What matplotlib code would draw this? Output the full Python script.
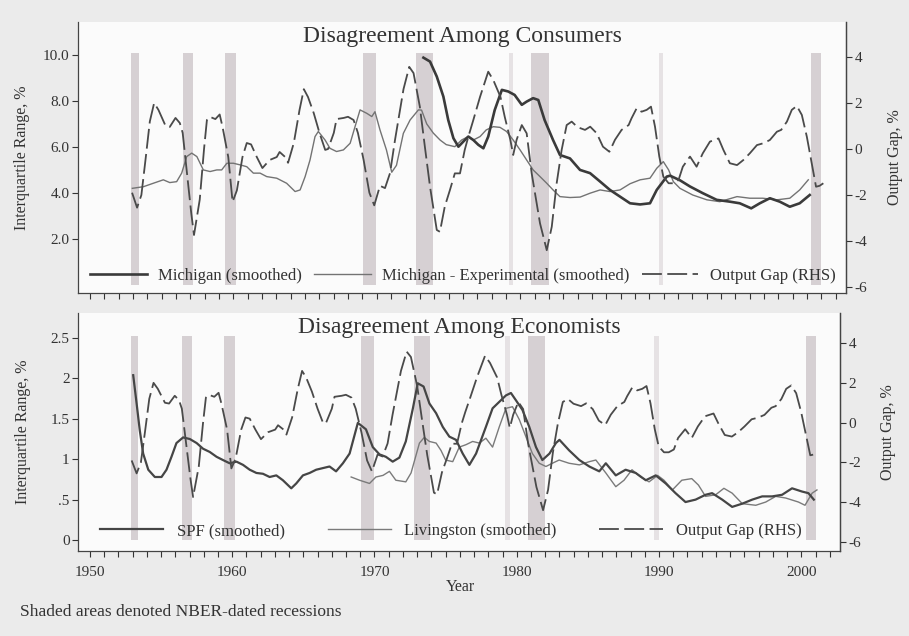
"""
Disagreement among consumers and economists vs. the output gap.
Two stacked panels, each with a twin axis for the output gap (RHS).
"""

import matplotlib
matplotlib.use("Agg")
import matplotlib.pyplot as plt
from matplotlib.ticker import MultipleLocator, FixedLocator

plt.rcParams['font.family'] = ['Liberation Serif', 'DejaVu Serif']
plt.rcParams['axes.unicode_minus'] = False

# NBER recessions, as drawn in the chart (start, end)
rec_start = [1952.86, 1956.5, 1959.4, 1969.07, 1972.76, 1979.2, 1980.76, 1989.68, 2000.3]
rec_end = [1953.39, 1957.2, 1960.2, 1969.95, 1973.93, 1979.5, 1982.0, 1989.98, 2001.0]

# Output gap, % (same series in both panels)
gap_year = [1952.93, 1953.28, 1953.58, 1953.88, 1954.17, 1954.47, 1954.77, 1955.27, 1955.56,
            1955.96, 1956.26, 1956.46, 1956.76, 1957.06, 1957.25, 1957.65, 1957.95, 1958.15,
            1958.35, 1958.74, 1959.04, 1959.24, 1959.64, 1959.94, 1960.24, 1960.63, 1960.93,
            1961.23, 1961.63, 1962.02, 1962.52, 1963.02, 1963.22, 1963.61, 1963.81, 1964.21,
            1964.61, 1964.91, 1965.2, 1965.6, 1966.0, 1966.4, 1966.6, 1967.0, 1967.19, 1967.69,
            1967.99, 1968.38, 1968.68, 1969.08, 1969.48, 1969.82, 1970.22, 1970.57, 1970.92,
            1971.27, 1971.86, 1972.26, 1972.56, 1973.0, 1973.35, 1973.71, 1974.18, 1974.4,
            1974.74, 1975.1, 1975.44, 1975.8, 1976.13, 1976.38, 1976.73, 1977.2, 1977.77,
            1978.12, 1978.62, 1978.92, 1979.31, 1979.51, 1979.75, 1980.11, 1980.45, 1980.8,
            1981.38, 1981.85, 1982.2, 1982.54, 1982.89, 1983.24, 1983.59, 1983.99, 1984.52,
            1984.88, 1985.34, 1985.77, 1986.22, 1986.61, 1987.07, 1987.56, 1987.76, 1988.12,
            1988.46, 1988.82, 1989.12, 1989.4, 1989.7, 1989.98, 1990.35, 1990.68, 1991.04,
            1991.34, 1991.84, 1992.3, 1992.73, 1993.23, 1993.83, 1994.17, 1994.62, 1995.12,
            1995.56, 1996.01, 1996.51, 1996.96, 1997.41, 1997.9, 1998.2, 1998.6, 1998.94,
            1999.29, 1999.64, 1999.99, 2000.33, 2000.63, 2000.88, 2001.14]
gap_val = [-1.9, -2.55, -2.0, -0.4, 1.2, 2.0, 1.7, 1.0, 0.96,
           1.35, 1.13, 0.7, -1.05, -2.8, -3.74, -2.2, 0.0, 1.26,
           1.4, 1.3, 1.5, 0.96, -0.35, -2.3, -1.8, -0.35, 0.26,
           0.2, -0.35, -0.83, -0.48, -0.35, -0.13, -0.35, -0.6, 0.26,
           1.7, 2.6, 2.26, 1.56, 0.7, -0.04, 0.0, 0.7, 1.3, 1.35,
           1.4, 1.26, 0.7, -0.48, -1.9, -2.45, -1.6, -1.7, -1.05,
           0.4, 2.6, 3.57, 3.3, 1.84, 0.1, -1.64, -3.52, -3.6,
           -2.5, -1.78, -1.06, -1.06, -0.04, 0.53, 1.26, 2.27, 3.36,
           3.0, 2.27, 1.4, 0.4, -0.26, 0.4, 1.04, 0.68, -1.06,
           -3.23, -4.4, -3.38, -1.5, -0.04, 1.04, 1.19, 0.95, 0.83,
           0.97, 0.68, 0.1, -0.12, 0.4, 0.83, 1.04, 1.33, 1.77,
           1.62, 1.7, 1.84, 0.97, -0.33, -1.2, -1.49, -1.49, -1.35,
           -0.77, -0.33, -0.77, -0.19, 0.32, 0.46, -0.04, -0.62, -0.7,
           -0.48, -0.19, 0.17, 0.25, 0.39, 0.75, 0.83, 1.19, 1.7,
           1.87, 1.48, 0.53, -0.62, -1.64, -1.6, -1.49]

# Michigan (smoothed), interquartile range %
mich_year = [1973.25, 1973.71, 1974.18, 1974.64, 1974.98, 1975.34, 1975.69, 1976.03, 1976.38,
             1976.73, 1977.08, 1977.43, 1977.77, 1978.22, 1978.72, 1979.16, 1979.61, 1980.11,
             1980.45, 1980.9, 1981.26, 1981.7, 1982.29, 1982.77, 1983.47, 1984.17, 1984.87,
             1985.56, 1986.26, 1986.96, 1987.66, 1988.36, 1989.05, 1989.52, 1990.22, 1990.45,
             1991.14, 1991.84, 1992.73, 1993.7, 1994.62, 1995.31, 1996.11, 1996.71, 1997.41,
             1998.1, 1998.8, 1999.49, 2000.19]
mich_val = [9.88, 9.71, 9.06, 8.19, 7.17, 6.38, 6.01, 6.23, 6.45,
            6.3, 6.09, 5.94, 6.45, 7.6, 8.48, 8.41, 8.26, 7.83,
            7.97, 8.12, 8.04, 7.17, 6.3, 5.65, 5.5, 5.0, 4.86,
            4.5, 4.13, 3.84, 3.55, 3.5, 3.55, 4.13, 4.71, 4.75,
            4.55, 4.28, 3.99, 3.7, 3.62, 3.55, 3.33, 3.55, 3.77,
            3.62, 3.4, 3.55, 3.91]

# Michigan - Experimental (smoothed)
exp_year = [1952.95, 1953.72, 1954.41, 1955.11, 1955.56, 1956.04, 1956.39, 1956.74, 1957.09,
            1957.45, 1957.9, 1958.37, 1958.84, 1959.18, 1959.54, 1960.0, 1960.46, 1960.93,
            1961.39, 1961.86, 1962.32, 1963.02, 1963.71, 1964.3, 1964.65, 1965.0, 1965.34,
            1965.69, 1965.92, 1966.39, 1966.73, 1967.19, 1967.67, 1968.14, 1968.48, 1968.83,
            1969.3, 1969.65, 1969.87, 1970.22, 1970.67, 1971.04, 1971.37, 1971.85, 1972.32,
            1972.9, 1973.12, 1973.48, 1973.94, 1974.41, 1974.84, 1975.44, 1975.91, 1976.38,
            1976.73, 1977.2, 1977.63, 1978.12, 1978.59, 1979.05, 1979.51, 1979.99, 1980.45,
            1980.9, 1981.38, 1981.85, 1982.29, 1982.77, 1983.47, 1984.18, 1984.88, 1985.57,
            1986.26, 1986.96, 1987.66, 1988.36, 1989.05, 1989.52, 1989.98, 1990.35, 1990.68,
            1991.14, 1992.03, 1993.02, 1993.92, 1995.12, 1996.01, 1996.91, 1997.9, 1998.8,
            1999.49, 2000.09]
exp_val = [4.2, 4.27, 4.42, 4.57, 4.45, 4.49, 4.86, 5.58, 5.73,
           5.58, 5.0, 4.93, 5.0, 5.0, 5.29, 5.29, 5.22, 5.14,
           4.86, 4.86, 4.71, 4.64, 4.42, 4.06, 4.13, 4.71, 5.43,
           6.45, 6.67, 6.3, 5.94, 5.8, 5.87, 6.16, 6.88, 7.61,
           7.46, 7.32, 7.53, 6.74, 5.87, 4.9, 5.2, 6.59, 7.17,
           7.61, 7.6, 7.0, 6.6, 6.3, 6.1, 6.01, 6.3, 6.45,
           6.3, 6.45, 6.74, 6.88, 6.85, 6.67, 6.3, 5.87, 5.43,
           5.0, 4.71, 4.42, 4.13, 3.84, 3.8, 3.82, 3.99, 4.13,
           4.06, 4.13, 4.4, 4.57, 4.64, 5.07, 5.36, 5.0, 4.49,
           4.2, 3.91, 3.7, 3.62, 3.84, 3.77, 3.77, 3.7, 3.77,
           4.13, 4.57]

# SPF (smoothed)
spf_year = [1953.04, 1953.28, 1953.5, 1953.74, 1954.1, 1954.56, 1955.03, 1955.38, 1955.73,
            1956.08, 1956.55, 1957.02, 1957.5, 1957.95, 1958.42, 1958.9, 1959.35, 1959.82,
            1960.3, 1960.76, 1961.23, 1961.7, 1962.16, 1962.63, 1963.1, 1963.56, 1964.15,
            1964.5, 1964.97, 1965.44, 1965.9, 1966.37, 1966.84, 1967.3, 1967.78, 1968.25,
            1968.83, 1969.4, 1969.88, 1970.35, 1970.8, 1971.28, 1971.75, 1972.2, 1972.7,
            1973.04, 1973.45, 1973.86, 1974.33, 1974.8, 1975.26, 1975.73, 1976.2, 1976.67,
            1977.14, 1977.83, 1978.3, 1978.77, 1979.24, 1979.59, 1979.94, 1980.4, 1980.88,
            1981.35, 1981.8, 1982.3, 1982.75, 1983.0, 1983.68, 1984.4, 1985.1, 1985.8,
            1986.26, 1986.96, 1987.65, 1988.36, 1989.07, 1989.77, 1990.47, 1991.16, 1991.86,
            1992.57, 1993.27, 1993.73, 1994.44, 1995.14, 1995.85, 1996.55, 1997.25, 1997.95,
            1998.65, 1999.35, 2000.05, 2000.5, 2000.88]
spf_val = [2.04, 1.69, 1.36, 1.07, 0.87, 0.78, 0.78, 0.87, 1.03,
           1.2, 1.27, 1.25, 1.2, 1.13, 1.09, 1.03, 0.99, 0.95,
           0.97, 0.93, 0.87, 0.83, 0.82, 0.78, 0.8, 0.74, 0.64,
           0.7, 0.8, 0.83, 0.87, 0.89, 0.91, 0.85, 0.95, 1.07,
           1.45, 1.37, 1.15, 1.06, 1.03, 0.97, 1.02, 1.22, 1.63,
           1.94, 1.9, 1.69, 1.57, 1.4, 1.28, 1.24, 1.07, 0.93,
           1.07, 1.4, 1.63, 1.71, 1.79, 1.82, 1.73, 1.61, 1.4,
           1.15, 0.99, 1.07, 1.2, 1.24, 1.11, 0.99, 0.91, 0.85,
           0.95, 0.8, 0.87, 0.83, 0.74, 0.8, 0.7, 0.58, 0.47,
           0.5, 0.56, 0.58, 0.5, 0.41, 0.45, 0.5, 0.54, 0.54,
           0.56, 0.64, 0.6, 0.58, 0.5]

# Livingston (smoothed)
liv_year = [1968.36, 1968.95, 1969.65, 1970.1, 1970.6, 1971.05, 1971.5, 1972.2, 1972.57,
            1973.16, 1973.5, 1973.86, 1974.33, 1974.67, 1975.0, 1975.5, 1975.96, 1976.43,
            1976.9, 1977.37, 1977.83, 1978.3, 1978.77, 1979.24, 1979.7, 1980.18, 1980.64,
            1981.1, 1981.58, 1982.05, 1982.5, 1982.98, 1983.68, 1984.4, 1985.1, 1985.56,
            1986.26, 1986.96, 1987.54, 1988.1, 1988.7, 1989.3, 1989.9, 1990.35, 1990.94,
            1991.6, 1992.3, 1992.77, 1993.27, 1993.98, 1994.56, 1995.14, 1995.85, 1996.8,
            1997.5, 1998.2, 1998.9, 1999.8, 2000.26, 2000.76, 2001.1]
liv_val = [0.78, 0.74, 0.7, 0.78, 0.8, 0.85, 0.74, 0.72, 0.83,
           1.2, 1.27, 1.22, 1.2, 1.11, 0.99, 0.97, 1.15, 1.18,
           1.22, 1.2, 1.26, 1.15, 1.4, 1.63, 1.65, 1.49, 1.28,
           1.07, 0.95, 0.91, 0.95, 0.99, 0.95, 0.93, 0.97, 0.99,
           0.83, 0.66, 0.74, 0.87, 0.78, 0.72, 0.8, 0.74, 0.62,
           0.74, 0.76, 0.68, 0.54, 0.56, 0.64, 0.58, 0.45, 0.43,
           0.47, 0.54, 0.52, 0.47, 0.43, 0.58, 0.62]

TEXT = '#333333'
BG = '#ebebeb'
PANEL = '#fbfbfb'
SHADE = '#d6d0d3'
SHADE_THIN = '#e6e2e4'   # very short recessions print lighter in the scan
GAP_DASH = (11, 3)


def style_axes(ax, ax2, show_xlabels):
    ax.set_facecolor(PANEL)
    ax.set_xlim(1949.16, 2002.72)
    ax.xaxis.set_major_locator(MultipleLocator(10))
    ax.xaxis.set_minor_locator(MultipleLocator(1))
    ax.tick_params(axis='x', which='both', direction='out', length=4, width=0.8,
                   colors=TEXT, labelsize=11, pad=7, labelbottom=show_xlabels)
    ax.tick_params(axis='y', direction='out', length=4, width=0.8, colors=TEXT,
                   labelsize=11, pad=2)
    ax2.tick_params(axis='y', direction='out', length=4, width=0.8, colors=TEXT,
                    labelsize=11, pad=2)
    ax.spines['top'].set_visible(False)
    for sp in ['top', 'left', 'bottom']:
        ax2.spines[sp].set_visible(False)
    for a in (ax, ax2):
        for sp in a.spines.values():
            sp.set_color('#444444')
            sp.set_linewidth(0.9)
    ax2.yaxis.set_major_locator(FixedLocator([-6, -4, -2, 0, 2, 4]))
    ax2.set_ylabel('Output Gap, %', fontsize=11.5, color=TEXT)
    ax2.yaxis.set_label_coords(1.053, 0.5)
    ax.set_ylabel('Interquartile Range, %', fontsize=11.5, color=TEXT)
    ax.yaxis.set_label_coords(-0.062, 0.5)


def draw_recessions(ax, top):
    widths = [e - s for s, e in zip(rec_start, rec_end)]
    colors = [SHADE_THIN if w < 0.4 else SHADE for w in widths]
    ax.bar(rec_start, top, width=widths, bottom=0, align='edge',
           color=colors, linewidth=0, zorder=0)


fig = plt.figure(figsize=(9.09, 6.36), dpi=100, facecolor=BG)

# ---- top panel: consumers ----
ax1 = fig.add_axes([78 / 909, 1 - 293 / 636, 768 / 909, 271 / 636])
ax1r = ax1.twinx()
draw_recessions(ax1, 10.1)
l1, = ax1.plot(mich_year, mich_val, color='#3a3a3a', lw=1.9, zorder=3)
l2, = ax1.plot(exp_year, exp_val, color='#737373', lw=1.0, zorder=2)
l3, = ax1r.plot(gap_year, gap_val, color='#4a4a4a', lw=1.3, dashes=GAP_DASH)
ax1.set_ylim(-0.35, 11.43)
ax1r.set_ylim(-6.26, 5.52)
ax1.yaxis.set_major_locator(FixedLocator([2, 4, 6, 8, 10]))
ax1.set_yticklabels(['2.0', '4.0', '6.0', '8.0', '10.0'])
style_axes(ax1, ax1r, False)
ax1.text(0.5, 0.948, 'Disagreement Among Consumers', transform=ax1.transAxes,
         ha='center', va='center', fontsize=17, color=TEXT)
ax1r.legend([l1, l2, l3], ['Michigan (smoothed)', 'Michigan - Experimental (smoothed)',
                           'Output Gap (RHS)'],
            loc='center', bbox_to_anchor=(0.0156, 0.053, 0.971, 0.02), mode='expand',
            ncol=3, frameon=False, fontsize=12, handlelength=3.4, handletextpad=0.7,
            borderaxespad=0, borderpad=0, labelcolor=TEXT)

# ---- bottom panel: economists ----
ax2 = fig.add_axes([78 / 909, 1 - 551 / 636, 762 / 909, 238 / 636])
ax2r = ax2.twinx()
draw_recessions(ax2, 2.52)
b1, = ax2.plot(spf_year, spf_val, color='#454545', lw=1.6, zorder=3)
b2, = ax2.plot(liv_year, liv_val, color='#7a7a7a', lw=1.0, zorder=2)
b3, = ax2r.plot(gap_year, gap_val, color='#4a4a4a', lw=1.3, dashes=GAP_DASH)
ax2.set_ylim(-0.136, 2.81)
ax2r.set_ylim(-6.45, 5.51)
ax2.yaxis.set_major_locator(FixedLocator([0, 0.5, 1, 1.5, 2, 2.5]))
ax2.set_yticklabels(['0', '.5', '1', '1.5', '2', '2.5'])
style_axes(ax2, ax2r, True)
ax2.text(0.5, 0.941, 'Disagreement Among Economists', transform=ax2.transAxes,
         ha='center', va='center', fontsize=17, color=TEXT)
ax2r.legend([b1, b2, b3], ['SPF (smoothed)', 'Livingston (smoothed)', 'Output Gap (RHS)'],
            loc='center', bbox_to_anchor=(0.029, 0.074, 0.921, 0.02), mode='expand',
            ncol=3, frameon=False, fontsize=12, handlelength=3.8, handletextpad=0.8,
            borderaxespad=0, borderpad=0, labelcolor=TEXT)

fig.text(460 / 909, 1 - 587 / 636, 'Year', ha='center', va='center',
         fontsize=11.5, color=TEXT)
fig.text(20 / 909, 1 - 612 / 636, 'Shaded areas denoted NBER-dated recessions',
         ha='left', va='center', fontsize=12.5, color=TEXT)

fig.savefig('out.png', dpi=100, facecolor=BG)
